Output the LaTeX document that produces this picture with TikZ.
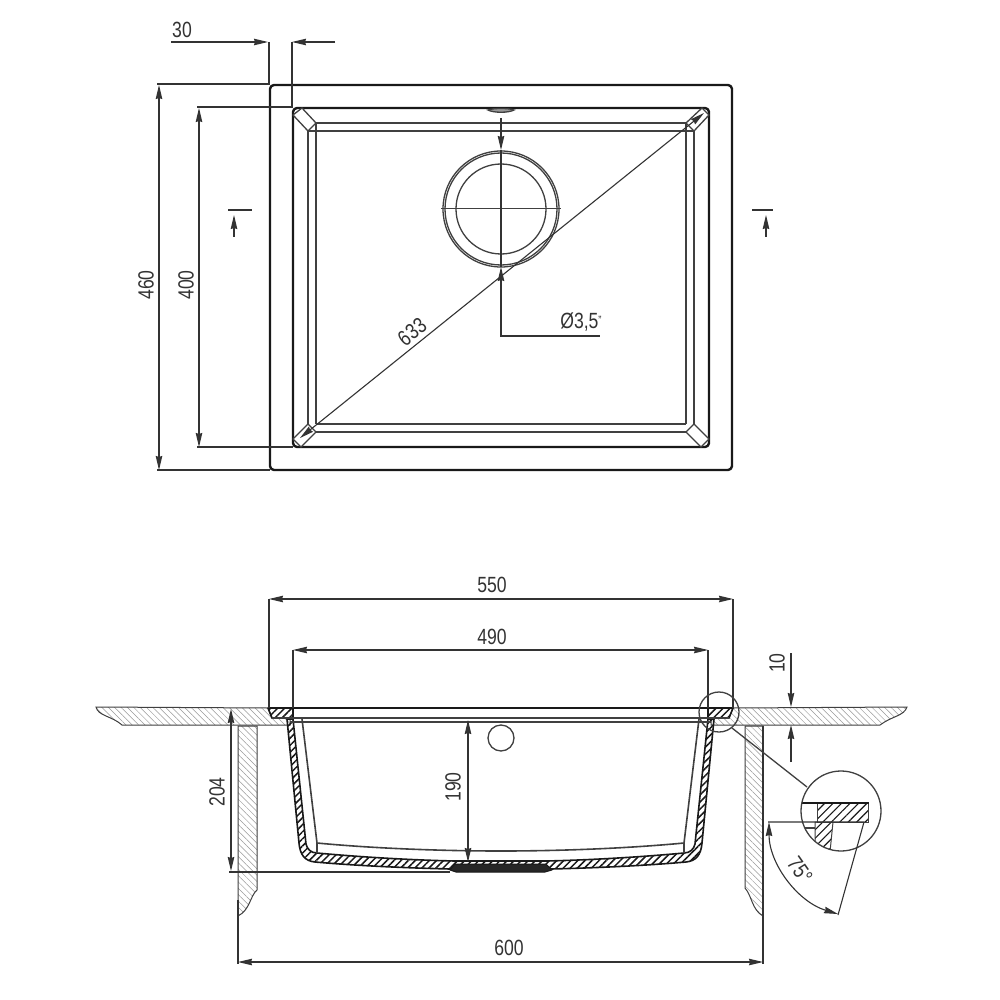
\documentclass[tikz,border=0pt]{standalone}
\usepackage{fontspec}
\setmainfont{Liberation Sans}[FakeStretch=0.8]
\usetikzlibrary{arrows.meta,patterns.meta}
\tikzset{
    outline/.style={line width=2.4pt, black!90, line join=round},
    edge2/.style={line width=1.3pt, black!75},
    thin2/.style={line width=1pt, black!75},
    dimline/.style={line width=1.1pt, black!80, >={Stealth[length=14pt,width=6.5pt,inset=1pt]}},
    dimtext/.style={font=\fontsize{22}{24}\selectfont, text=black!80, inner sep=0pt},
    stonehatch/.style={pattern={Lines[angle=-45,distance=4.5pt,line width=0.5pt]}, pattern color=black!40},
    sinkhatch/.style={pattern={Lines[angle=45,distance=5pt,line width=1.5pt]}, pattern color=black!90},
    detailhatch/.style={pattern={Lines[angle=45,distance=6pt,line width=1.2pt]}, pattern color=black!90},
}
\begin{document}
\begin{tikzpicture}[x=1pt, y=-1pt]
    \useasboundingbox[fill=white] (0,0) rectangle (1000,1000);

    % Plan view: rim and bowl
    \draw[outline, rounded corners=4pt] (270,85) rectangle (732,470);
    \draw[outline, rounded corners=4pt] (293,108) rectangle (709,447);
    \draw[edge2] (316,123) -- (686,123) (308,131) -- (694,131);
    \draw[edge2] (316,424) -- (686,424) (308,432) -- (694,432);
    \draw[edge2] (308,131) -- (308,424) (316,123) -- (316,424);
    \draw[edge2] (686,123) -- (686,424) (694,131) -- (694,424);

    % Corner pieces
    \draw[edge2, fill=white] (293,115) -- (302,108) -- (316,123) -- (308,131) -- cycle;
    \draw[edge2, fill=white] (709,115) -- (702,108) -- (686,123) -- (694,131) -- cycle;
    \draw[edge2, fill=white] (293,439) -- (301,447) -- (316,432) -- (308,424) -- cycle;
    \draw[edge2, fill=white] (709,439) -- (701,447) -- (686,432) -- (694,424) -- cycle;

    % Drain
    \draw[edge2] (501,209) circle[radius=58pt];
    \draw[edge2] (501,209) circle[radius=56pt];
    \draw[edge2] (501,209) circle[radius=45pt];
    \draw[thin2] (441,209) -- (561,209);
    \draw[edge2, fill=black!40] (488,110) .. controls (493,108) and (509,108) .. (514,110) .. controls (509,113) and (493,113) .. (488,110) -- cycle;

    % Plan view: dimensions
    \draw[dimline, ->] (171,42) -- (268,42);
    \draw[dimline, ->] (335,42) -- (292,42);
    \draw[dimline] (269,42) -- (269,85) (292,42) -- (292,108);
    \node[dimtext] (w30) at (182,30) {30};

    \draw[dimline, <->] (159,85) -- (159,470);
    \draw[dimline] (157,84) -- (270,84) (157,470) -- (270,470);
    \node[dimtext, rotate=90] (h460) at (146,285) {460};

    \draw[dimline, <->] (199,108) -- (199,447);
    \draw[dimline] (197,107) -- (293,107) (197,447) -- (293,447);
    \node[dimtext, rotate=90] (h400) at (186,285) {400};

    \draw[dimline, <->] (300,438) -- (704,113);
    \node[dimtext, rotate=38] (d633) at (412,332) {633};

    \draw[dimline, ->] (501,118) -- (501,150);
    \draw[dimline] (501,150) -- (501,267);
    \draw[dimline, <-] (501,267) -- (501,336) -- (600,336);
    \node[dimtext] (d35) at (581,322) {Ø3,5\raisebox{4pt}{\fontsize{12}{12}\selectfont"}};

    % Section marks
    \draw[dimline] (228,210) -- (252,210);
    \draw[dimline, <-] (234,215) -- (234,237);
    \draw[dimline] (752,210) -- (773,210);
    \draw[dimline, <-] (766,215) -- (766,237);

    % Section: worktop and cabinet sides
    \draw[thin2, stonehatch] (96,707) .. controls (98,716) and (112,716) .. (122,725) -- (290,725) -- (290,718) -- (272,718) -- (268,708) -- cycle;
    \draw[thin2, stonehatch] (907,707) .. controls (904,716) and (892,716) .. (880,725) -- (711,725) -- (711,718) -- (729,718) -- (733,708) -- cycle;
    \draw[thin2, stonehatch] (238,726) -- (257,726) -- (257,890) .. controls (250,896) and (250,910) .. (238,916) -- cycle;
    \draw[thin2, stonehatch] (745,726) -- (763,726) -- (763,916) .. controls (752,910) and (752,896) .. (745,888) -- cycle;

    % Section: sink
    \draw[outline, line width=1.6pt, sinkhatch]
        (287,719) -- (299,843) .. controls (300,855) and (305,861) .. (315,862)
        .. controls (360,866) and (410,868) .. (450,869) -- (551,869)
        .. controls (591,868) and (641,866) .. (686,862)
        .. controls (696,861) and (701,855) .. (702,843) -- (714,719) -- (708,719)
        -- (695,844) .. controls (694,849) and (690,853) .. (684,853)
        .. controls (641,857) and (591,860) .. (546,861) -- (455,861)
        .. controls (410,860) and (360,857) .. (317,853)
        .. controls (311,853) and (307,849) .. (306,844) -- (293,719) -- cycle;
    \draw[edge2, line width=1.6pt] (302,719) -- (317,843)
        .. controls (380,849) and (450,851) .. (501,851)
        .. controls (552,851) and (621,849) .. (684,843) -- (699,719);
    \draw[edge2] (317,843) -- (317,853) (684,843) -- (684,853);
    \draw[outline, line width=1.6pt, sinkhatch] (268,708) -- (293,708) -- (293,718) -- (272,718) -- cycle;
    \draw[outline, line width=1.6pt, sinkhatch] (708,708) -- (733,708) -- (729,718) -- (708,718) -- cycle;
    \draw[outline] (268,708) -- (733,708);
    \draw[edge2] (272,718) -- (729,718) (290,722) -- (711,722);
    \draw[outline, fill=black!85, line width=1pt] (450,870) -- (455,864) -- (546,864) -- (552,870) -- (545,872) -- (456,872) -- cycle;
    \draw[edge2, fill=white] (501,738) circle[radius=13pt];

    % Section: dimensions
    \draw[dimline] (269,599) -- (269,708) (733,599) -- (733,708);
    \draw[dimline, <->] (269,599) -- (733,599);
    \node[dimtext] (w550) at (492,585) {550};

    \draw[dimline] (293,650) -- (293,708) (708,650) -- (708,708);
    \draw[dimline, <->] (293,650) -- (708,650);
    \node[dimtext] (w490) at (492,637) {490};

    \draw[dimline, <->] (468,720) -- (468,862);
    \node[dimtext, rotate=90] (h190) at (453,787) {190};

    \draw[dimline, <->] (231,709) -- (231,871);
    \draw[dimline] (229,872) -- (450,872);
    \node[dimtext, rotate=90] (h204) at (217,792) {204};

    \draw[dimline, ->] (791,653) -- (791,707);
    \draw[dimline, ->] (791,762) -- (791,725);
    \node[dimtext, rotate=90] (h10) at (777,663) {10};

    \draw[dimline] (238,900) -- (238,964) (763,726) -- (763,964);
    \draw[dimline, <->] (238,962) -- (763,962);
    \node[dimtext] (w600) at (509,948) {600};

    % Detail
    \draw[edge2] (719,712) circle[radius=20pt];
    \draw[edge2] (732,728) -- (807,787);
    \begin{scope}
        \clip (841,811) circle[radius=40pt];
        \draw[thin2, detailhatch] (817,803) rectangle (868,822);
        \draw[thin2, detailhatch] (815,822) -- (833,822) -- (830,852) -- (815,852) -- cycle;
        \draw[outline] (800,803) -- (869,803);
        \draw[edge2] (801,828) -- (815,828);
    \end{scope}
    \draw[edge2] (841,811) circle[radius=40pt];
    \draw[dimline] (768,822) -- (864,822) -- (838,915);
    \draw[dimline, <->] (769,822) .. controls (769,864) and (798,902) .. (838,914);
    \node[dimtext, rotate=-55] (a75) at (800,870) {75°};

\end{tikzpicture}
\end{document}
